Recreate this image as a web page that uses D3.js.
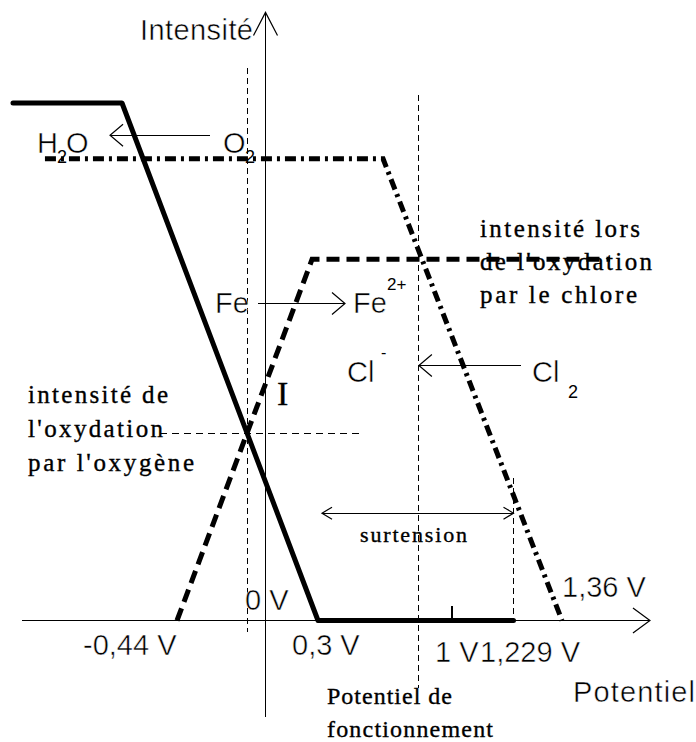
<!DOCTYPE html>
<html><head><meta charset="utf-8">
<script src="https://cdn.jsdelivr.net/npm/d3@7"></script>
<style>
html,body{margin:0;padding:0;background:#fff;}
svg{display:block;}
.sans{font-family:"Liberation Sans",Arial,sans-serif;fill:#000;}
.thin{stroke:#fff;stroke-width:0.5px;}
.serif{font-family:"Liberation Serif","Times New Roman",serif;fill:#000;stroke:#000;stroke-width:0.35px;}
</style></head>
<body>
<svg id="chart" width="696" height="742"></svg>
<script>
// ---- data (sketch units: potential in V, intensity in arbitrary units) ----
const scaleAnchorsV = [-1.4, -0.44, 0, 0.3, 1, 1.229, 1.36, 2.3];
const tickValues = [-0.44, 0, 0.3, 1, 1.229, 1.36];
const tickLabels = ["-0,44 V", "0 V", "0,3 V", "1 V", "1,229 V", "1,36 V"];
const solidCurve = [[-1.4, 83.4], [-0.762, 83.4], [0.3, 0], [1.229, 0]];     // O2 -> H2O
const feCurve = [[-0.44, 0], [0.266, 58.2], [1.697, 58.2]];                  // Fe -> Fe2+
const clCurve = [[-1.213, 74.4], [0.64, 74.4], [1.36, 0]];                  // Cl2 -> Cl-
const guideVertical = [[-0.09, 89, -1.9], [0.827, 84.7, -10.8], [1.229, 22.9, 0]];
const guideHorizontal = [[30.2, -0.539, 0.53]];
const reactionArrows = [[-0.275, -0.832, 78.2], [-0.035, 0.441, 51.1], [1.248, 0.827, 41.1]];
const surtension = [0.321, 1.229, 17.3];
const xAxisExtent = [-1.347, 1.977];
const yAxisExtent = [-15.6, 98];
const unitTick = [1, 0, 2.4];

// ---- scales ----
const svg = d3.select("#chart");
const x = d3.scaleLinear().domain(scaleAnchorsV).range([13, 177, 265.5, 318, 452, 513.5, 562, 696]);
const y = d3.scaleLinear().domain([0, 100]).range([620.5, 0]);
const line = d3.line().x(d => x(d[0])).y(d => y(d[1]));

// ---- axes ----
const axes = svg.append("g").attr("stroke", "#000").attr("fill", "none").attr("stroke-width", 1.2);
axes.append("path").attr("d", line([[xAxisExtent[0], 0], [xAxisExtent[1], 0]])).attr("shape-rendering", "crispEdges");
axes.append("path").attr("d", line([[0, yAxisExtent[0]], [0, yAxisExtent[1]]])).attr("shape-rendering", "crispEdges");
// arrowheads
const xe = x(xAxisExtent[1]), y0 = y(0);
axes.append("path").attr("d", `M${xe-17},${y0-12.5}L${xe},${y0}L${xe-17},${y0+12.5}`);
const ye = y(yAxisExtent[1]), x0 = x(0);
axes.append("path").attr("d", `M${x0-12},${ye+23}L${x0},${ye}L${x0+12},${ye+23}`);
// tick at 1 V
axes.append("path").attr("d", line([[unitTick[0], unitTick[1]], [unitTick[0], unitTick[2]]])).attr("shape-rendering", "crispEdges");

// ---- guide lines (thin dashed) ----
const guides = svg.append("g").attr("stroke", "#000").attr("fill", "none").attr("stroke-width", 1.1)
  .attr("shape-rendering", "crispEdges");
guideVertical.forEach(g => guides.append("path").attr("stroke-dasharray", "6,4")
  .attr("d", line([[g[0], g[1]], [g[0], g[2]]])));
guideHorizontal.forEach(g => guides.append("path").attr("stroke-dasharray", "7,5")
  .attr("d", line([[g[1], g[0]], [g[2], g[0]]])));

// ---- curves ----
svg.append("path").attr("d", line(clCurve)).attr("fill", "none").attr("stroke", "#000")
  .attr("stroke-width", 5).attr("stroke-dasharray", "11,5,3,5");
svg.append("path").attr("d", line(feCurve)).attr("fill", "none").attr("stroke", "#000")
  .attr("stroke-width", 5).attr("stroke-dasharray", "13,7");
svg.append("path").attr("d", line(solidCurve)).attr("fill", "none").attr("stroke", "#000")
  .attr("stroke-width", 5).attr("stroke-linejoin", "round").attr("stroke-linecap", "round");

// ---- reaction arrows ----
const arr = svg.append("g").attr("stroke", "#000").attr("fill", "none").attr("stroke-width", 1.2);
reactionArrows.forEach(a => {
  const xa = x(a[0]), xb = x(a[1]), yy = y(a[2]);
  const dir = xb > xa ? 1 : -1;
  arr.append("path").attr("d", `M${xa},${yy}L${xb},${yy}`).attr("shape-rendering", "crispEdges");
  arr.append("path").attr("d", `M${xb-dir*13},${yy-11}L${xb},${yy}L${xb-dir*13},${yy+11}`);
});
{
  const xa = x(surtension[0]), xb = x(surtension[1]), yy = y(surtension[2]);
  arr.append("path").attr("d", `M${xa},${yy}L${xb},${yy}`).attr("shape-rendering", "crispEdges");
  arr.append("path").attr("d", `M${xa+10},${yy-6}L${xa},${yy}L${xa+10},${yy+6}`);
  arr.append("path").attr("d", `M${xb-10},${yy-6}L${xb},${yy}L${xb-10},${yy+6}`);
}

// ---- text ----
const T = (cls, txt, px, py, size, len) => {
  const t = svg.append("text").attr("class", cls).attr("x", px).attr("y", py)
    .attr("font-size", size).text(txt);
  if (len) t.attr("textLength", len).attr("lengthAdjust", "spacing");
  return t;
};
T("sans thin", "Intensité", 140, 40, 29, 113);
T("sans thin", "Potentiel", 573, 702, 29, 122);

// tick labels
const labelPos = [[83, 655], [245, 610], [292, 655], [435, 662], [480, 662], [562, 597]];
tickLabels.forEach((l, i) => T("sans thin", l, labelPos[i][0], labelPos[i][1], 29));

// chemical species
T("sans thin", "H", 37, 153, 29);
T("sans", "2", 57, 163, 18);
T("sans thin", "O", 66, 153, 29);
T("sans thin", "O", 223, 153, 29);
T("sans", "2", 245, 163, 18);
T("sans thin", "Fe", 215, 313, 29);
T("sans thin", "Fe", 353, 313, 29);
T("sans", "2+", 387, 290, 17);
T("sans thin", "Cl", 347, 382, 29);
T("sans", "-", 381, 358, 16);
T("sans thin", "Cl", 532, 382, 29);
T("sans", "2", 568, 398, 18);
T("serif", "I", 277, 405, 34);

// annotations
T("serif", "intensité de", 28, 403, 25, 140);
T("serif", "l'oxydation", 28, 437, 25, 135);
T("serif", "par l'oxygène", 28, 471, 25, 166);
T("serif", "intensité lors", 480, 237, 25, 160);
T("serif", "de l'oxydation", 480, 270, 25, 172);
T("serif", "par le chlore", 480, 303, 25, 157);
T("serif", "surtension", 360, 542, 22, 107);
T("serif", "Potentiel de", 327, 704, 24, 125);
T("serif", "fonctionnement", 327, 737, 24, 166);
</script>
</body></html>
